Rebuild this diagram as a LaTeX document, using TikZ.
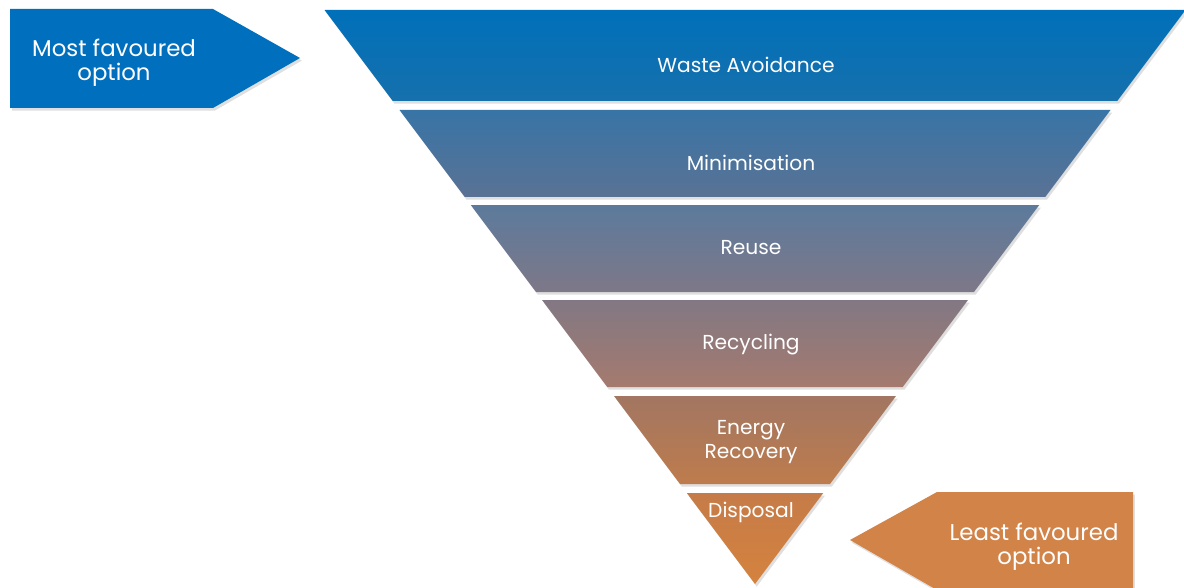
\documentclass[tikz,border=0pt]{standalone}
\usepackage{fontspec}
\setmainfont{Poppins}
\usetikzlibrary{shapes,positioning,shadows}

% band colours, top and bottom of each band
\definecolor{bandAtop}{RGB}{0,112,186}
\definecolor{bandAbot}{RGB}{22,112,172}
\definecolor{bandBtop}{RGB}{56,116,166}
\definecolor{bandBbot}{RGB}{90,114,148}
\definecolor{bandCtop}{RGB}{92,122,156}
\definecolor{bandCbot}{RGB}{126,120,136}
\definecolor{bandDtop}{RGB}{130,120,132}
\definecolor{bandDbot}{RGB}{165,122,110}
\definecolor{bandEtop}{RGB}{162,118,98}
\definecolor{bandEbot}{RGB}{190,124,76}
\definecolor{bandFtop}{RGB}{198,124,72}
\definecolor{bandFbot}{RGB}{212,130,62}
\definecolor{mostblue}{RGB}{0,112,190}
\definecolor{leastorange}{RGB}{210,131,72}

\tikzset{
  bandlabel/.style={text=white, font=\fontsize{11.5}{13.2}\selectfont, align=center},
  sidelabel/.style={text=white, font=\fontsize{13}{13.6}\selectfont, align=center},
  softshadow/.style={drop shadow={opacity=0.25, shadow xshift=1pt, shadow yshift=-1.5pt}}
}

\begin{document}
\begin{tikzpicture}[x=0.02cm, y=0.02cm]

    \useasboundingbox (0,0) rectangle (1184,-588);

    % Draw the bands of the inverted pyramid
    \foreach \t/\b/\c in {10/101/A, 110/197/B, 205/292/C, 300/387/D, 396/484/E, 493/584/F} {
        \shade[top color=band\c top, bottom color=band\c bot, softshadow]
          ({755-0.75*(584-\t)},-\t) -- ({755+0.75*(584-\t)},-\t)
          -- ({755+0.75*(584-\b)},-\b) -- ({755-0.75*(584-\b)},-\b) -- cycle;
    }

    % Band names
    \node[bandlabel] (avoid) at (746,-65) {Waste Avoidance};
    \node[bandlabel] (minim) at (751,-163) {Minimisation};
    \node[bandlabel] (reuse) at (751,-248) {Reuse};
    \node[bandlabel] (recyc) at (751,-345) {Recycling};
    \node[bandlabel] (energy) at (751,-442) {Energy\\Recovery};
    \node[bandlabel] (dispo) at (751,-512) {Disposal};

    % Draw the arrow on the left
    \fill[mostblue, softshadow] (10,-9) -- (213,-9) -- (300,-58) -- (213,-108) -- (10,-108) -- cycle;
    \node[sidelabel] (most) at (114,-63) {Most favoured\\option};

    % Draw the arrow on the right
    \fill[leastorange, softshadow] (937,-492) -- (1133,-492) -- (1133,-590) -- (937,-590) -- (850,-540) -- cycle;
    \node[sidelabel] (least) at (1034,-547) {Least favoured\\option};

\end{tikzpicture}
\end{document}
